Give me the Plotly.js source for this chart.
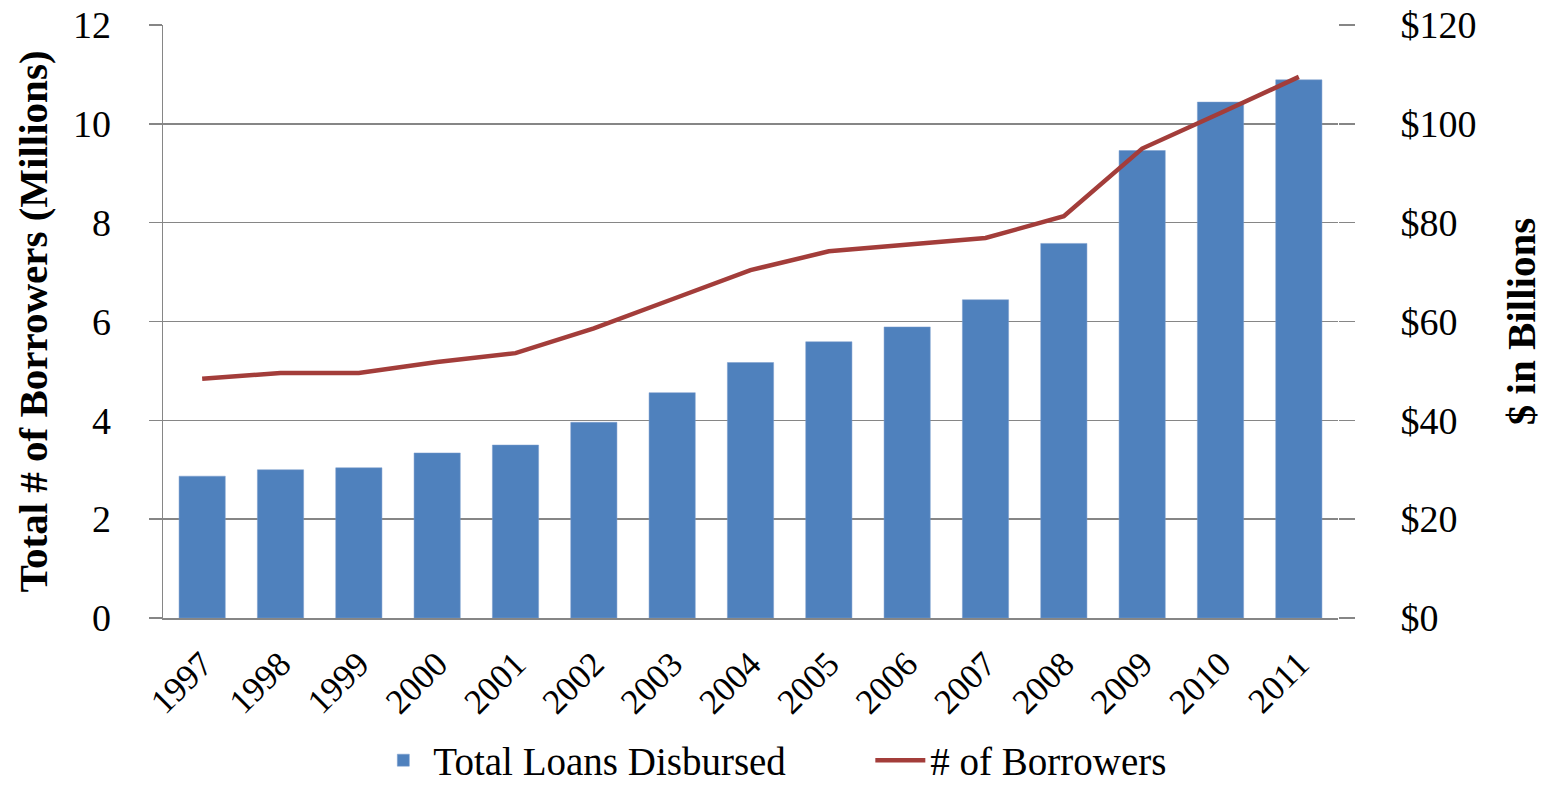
<!DOCTYPE html>
<html><head><meta charset="utf-8">
<script src="https://cdn.plot.ly/plotly-3.0.1.min.js"></script>
<style>html,body{margin:0;padding:0;background:#fff;}#chart{width:1554px;height:787px;}</style>
</head><body><div id="chart"></div>
<script>
const years = ['1997','1998','1999','2000','2001','2002','2003','2004','2005','2006','2007','2008','2009','2010','2011'];
const loansBillions = [28.7, 30.0, 30.4, 33.4, 35.0, 39.6, 45.6, 51.7, 55.9, 58.9, 64.4, 75.8, 94.6, 104.4, 108.9];
const borrowersMillions = [4.84, 4.96, 4.96, 5.18, 5.36, 5.86, 6.45, 7.04, 7.42, 7.55, 7.69, 8.13, 9.50, 10.22, 10.95];
const leftTicks = [0,2,4,6,8,10,12];
const rightTicks = [0,20,40,60,80,100,120];
const rightTickText = rightTicks.map(v => '$' + v);

const FONT = 'Liberation Serif, Times New Roman, serif';
const gray = '#868686';

const data = [
  {type:'bar', x: years, y: loansBillions, name:'Total Loans Disbursed', yaxis:'y',
   marker:{color:'#4F81BD', line:{color:'#7a9ccc', width:0.5}}},
  {type:'scatter', mode:'lines', x: years, y: borrowersMillions, name:'# of Borrowers', yaxis:'y2',
   line:{color:'#A33D3A', width:4.5}}
];
const layout = {
  width:1554, height:787,
  margin:{l:163, r:216, t:25, b:169, autoexpand:false},
  paper_bgcolor:'#fff', plot_bgcolor:'#fff',
  font:{family:FONT, size:36, color:'#000'},
  bargap:0.41,
  showlegend:true,
  legend:{orientation:'h', x:0.179, xanchor:'left', y:-0.24, yanchor:'middle',
          font:{family:FONT, size:39}, traceorder:'normal', itemwidth:50,
          entrywidth:432, entrywidthmode:'pixels'},
  xaxis:{type:'category', tickangle:-45, showline:true, linecolor:gray, linewidth:1.5,
         ticks:'', ticklabelstandoff:10, tickfont:{family:FONT, size:35}, showgrid:false, zeroline:false, automargin:false},
  yaxis:{side:'right', range:[0,120], tickvals:rightTicks, ticktext:rightTickText,
         showgrid:true, gridcolor:gray, gridwidth:1.5, zeroline:false, automargin:false,
         ticks:'outside', ticklen:16, tickcolor:gray, tickwidth:1.5, ticklabelstandoff:38,
         tickfont:{family:FONT, size:38},
         title:{text:'<b>$ in Billions</b>', font:{family:FONT, size:41}, standoff:30}},
  yaxis2:{overlaying:'y', side:'left', range:[0,12], tickvals:leftTicks, automargin:false,
          showgrid:false, zeroline:false, showline:true, linecolor:gray, linewidth:1.5,
          ticks:'outside', ticklen:13, tickcolor:gray, tickwidth:1.5, ticklabelstandoff:30,
          tickfont:{family:FONT, size:38},
          title:{text:'<b>Total # of Borrowers (Millions)</b>', font:{family:FONT, size:41}, standoff:12}}
};
Plotly.newPlot('chart', data, layout, {displayModeBar:false, staticPlot:true});
</script></body></html>
